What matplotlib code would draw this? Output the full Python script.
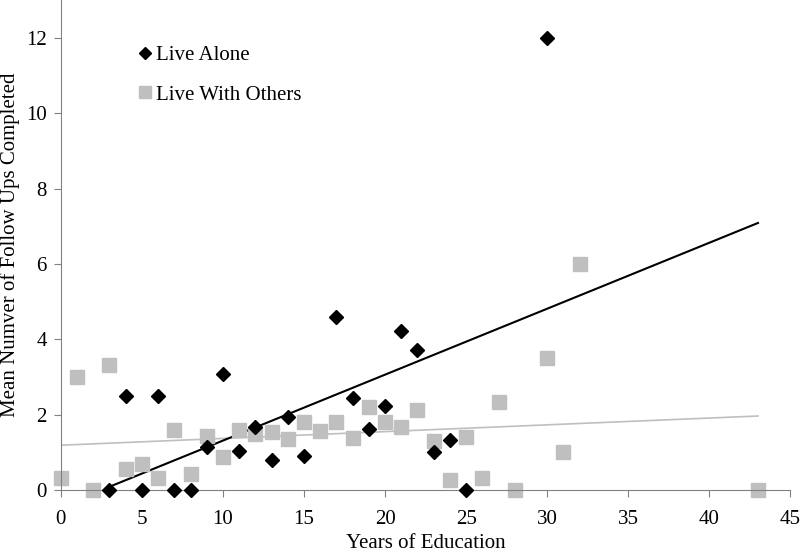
import matplotlib
matplotlib.use('Agg')
import matplotlib.pyplot as plt
import numpy as np

plt.rcParams['font.family'] = ['Liberation Serif', 'DejaVu Serif']

alone_x = [3, 4, 5, 6, 7, 8, 9, 10, 11, 12, 13, 14, 15, 17, 18, 19, 20, 21, 22, 23, 24, 25, 30]
alone_y = [0, 2.5, 0, 2.5, 0, 0, 1.15, 3.07, 1.05, 1.68, 0.8, 1.95, 0.9, 4.6, 2.45, 1.63, 2.23,
           4.22, 3.72, 1.0, 1.33, 0, 12]

others_x = [0, 1, 2, 3, 4, 5, 6, 7, 8, 9, 10, 11, 12, 13, 14, 15, 16, 17, 18, 19, 20, 21, 22,
            23, 24, 25, 26, 27, 28, 30, 31, 32, 43]
others_y = [0.33, 3.0, 0, 3.33, 0.57, 0.7, 0.33, 1.6, 0.43, 1.45, 0.87, 1.6, 1.5, 1.53, 1.35,
            1.8, 1.57, 1.82, 1.38, 2.2, 1.8, 1.68, 2.13, 1.3, 0.28, 1.4, 0.33, 2.33, 0, 3.5,
            1.0, 6.0, 0]

fig = plt.figure(figsize=(8, 5.52), dpi=100)
ax = fig.add_axes([0.076, 0.112, 0.912, 0.888])

gray = '#bfbfbf'

# linear trendlines
ka, ba = np.polyfit(alone_x, alone_y, 1)
ko, bo = np.polyfit(others_x, others_y, 1)
xa = np.array([3, 43])
xo = np.array([0, 43])
ax.plot(xo, ko * xo + bo, color=gray, lw=1.2, zorder=1)
ax.plot(xa, ka * xa + ba, color='black', lw=1.5, zorder=1)

ax.plot(others_x, others_y, 's', color=gray, ms=10, ls='none', label='Live With Others',
        zorder=2, clip_on=False)
ax.plot(alone_x, alone_y, 'D', color='black', ms=7, ls='none', label='Live Alone',
        zorder=3, clip_on=False)

ax.set_xlim(0, 45)
ax.set_ylim(0, 13)
ax.set_xticks(np.arange(0, 46, 5))
ax.set_yticks(np.arange(0, 13, 2))

for s in ['top', 'right']:
    ax.spines[s].set_visible(False)
for s in ['left', 'bottom']:
    ax.spines[s].set_color('#808080')
ax.tick_params(axis='both', colors='#808080', labelcolor='black', labelsize=15, length=5)
ax.tick_params(axis='x', pad=9)
ax.tick_params(axis='y', pad=5)

ax.set_xlabel('Years of Education', fontsize=15, labelpad=4)
ax.set_ylabel('Mean Numver of Follow Ups Completed', fontsize=15)
ax.yaxis.set_label_coords(-0.056, 0.5)

h, l = ax.get_legend_handles_labels()
ax.legend(h[::-1], l[::-1], loc='upper left', bbox_to_anchor=(0.075, 0.945), frameon=False,
          fontsize=15, handletextpad=0.05, labelspacing=0.95, handlelength=1.0,
          markerscale=0.9)

plt.savefig('out.png', dpi=100)
